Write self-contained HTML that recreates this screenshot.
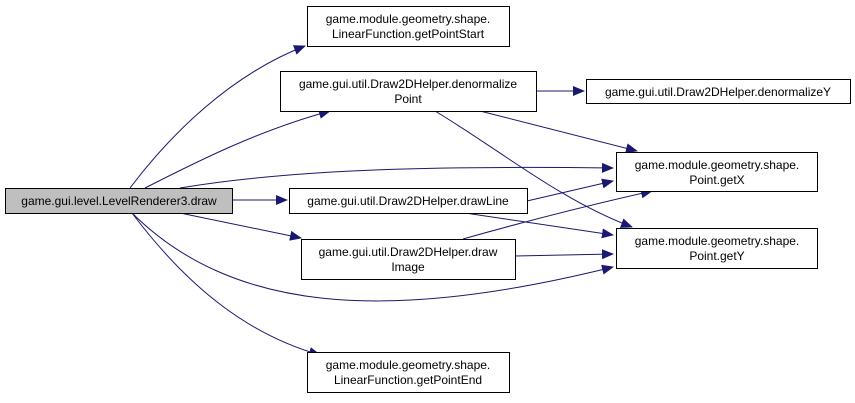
<!DOCTYPE html>
<html><head><meta charset="utf-8"><style>
html,body{margin:0;padding:0;background:#fff;}
svg{display:block;}
text{font-family:"Liberation Sans",Arial,sans-serif;font-size:12px;fill:#000;}
</style></head><body>
<svg width="855" height="403" viewBox="0 0 855 403" xmlns="http://www.w3.org/2000/svg">
<defs>
<marker id="a" markerWidth="12" markerHeight="10" refX="11" refY="5" orient="auto" markerUnits="userSpaceOnUse">
<path d="M0,0 L12,5 L0,10 z" fill="#191970"/>
</marker>
</defs>
<g fill="none" stroke="#191970" stroke-width="1" marker-end="url(#a)">
<path d="M130,188 C170,135 230,75 305,46"/>
<path d="M145,188 C200,160 260,130 330,111"/>
<path d="M180,188 C300,168 450,166 613,168"/>
<path d="M232,200 L287,200"/>
<path d="M180,213 L301,238"/>
<path d="M132,213 C230,310 380,325 613,267"/>
<path d="M132,213 C190,290 250,335 320,355"/>
<path d="M536,91 L584,91"/>
<path d="M480,111 L637,151"/>
<path d="M435,111 C500,150 560,200 632,227"/>
<path d="M527,201 L613,181"/>
<path d="M465,213 L613,235"/>
<path d="M463,239 C530,220 590,205 652,191"/>
<path d="M515,256 L613,254"/>
</g>
<g stroke="#000" stroke-width="1">
<rect x="5.5" y="188.5" width="227" height="25" fill="#bfbfbf"/>
<rect x="307.5" y="6.5" width="202" height="40" fill="#fff"/>
<rect x="280.5" y="71.5" width="256" height="40" fill="#fff"/>
<rect x="289.5" y="188.5" width="238" height="25" fill="#fff"/>
<rect x="301.5" y="239.5" width="214" height="40" fill="#fff"/>
<rect x="586.5" y="79.5" width="264" height="24" fill="#fff"/>
<rect x="616.5" y="152.5" width="201" height="39" fill="#fff"/>
<rect x="616.5" y="228.5" width="201" height="40" fill="#fff"/>
<rect x="307.5" y="352.5" width="202" height="40" fill="#fff"/>
</g>
<g text-anchor="middle">
<text x="119" y="205">game.gui.level.LevelRenderer3.draw</text>
<text x="408" y="23">game.module.geometry.shape.</text>
<text x="408" y="38">LinearFunction.getPointStart</text>
<text x="408" y="88">game.gui.util.Draw2DHelper.denormalize</text>
<text x="408" y="103">Point</text>
<text x="408" y="205">game.gui.util.Draw2DHelper.drawLine</text>
<text x="408" y="256">game.gui.util.Draw2DHelper.draw</text>
<text x="408" y="271">Image</text>
<text x="718" y="96">game.gui.util.Draw2DHelper.denormalizeY</text>
<text x="717" y="169">game.module.geometry.shape.</text>
<text x="717" y="184">Point.getX</text>
<text x="717" y="245">game.module.geometry.shape.</text>
<text x="717" y="260">Point.getY</text>
<text x="408" y="369">game.module.geometry.shape.</text>
<text x="408" y="384">LinearFunction.getPointEnd</text>
</g>
</svg>
</body></html>
